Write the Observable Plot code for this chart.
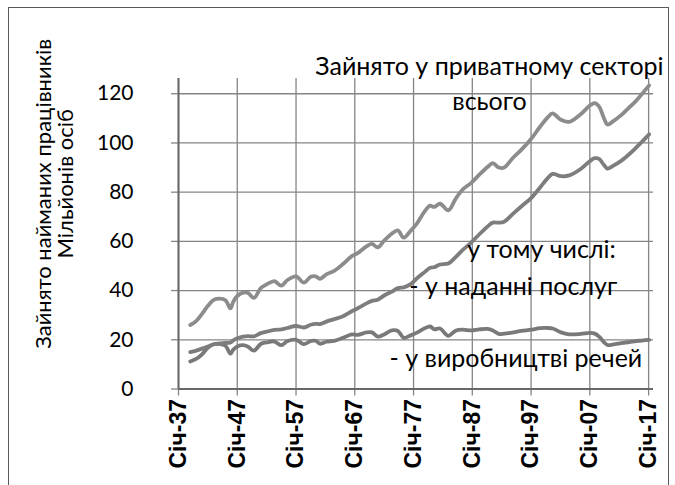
<!DOCTYPE html>
<html><head><meta charset="utf-8">
<script src="https://cdn.jsdelivr.net/npm/d3@7"></script>
<script src="https://cdn.jsdelivr.net/npm/@observablehq/plot@0.6"></script>
<style>
html,body{margin:0;padding:0;background:#fff;width:675px;height:485px;overflow:hidden;}
#chart{position:absolute;left:0;top:0;}
#border{position:absolute;left:8px;top:7px;width:661px;height:520px;border:1px solid #5a5a5a;box-sizing:border-box;z-index:2;pointer-events:none;}
</style></head><body>
<div id="chart"></div>
<div id="border"></div>
<script>
// time points (decimal years)
const years = [1939.0,1940.0,1941.0,1942.0,1943.0,1944.0,1945.0,1945.8,1946.3,1947.0,1948.0,1948.8,1949.8,1951.0,1952.0,1953.3,1954.5,1955.5,1957.0,1958.3,1959.5,1960.3,1961.1,1962.2,1963.5,1965.0,1966.5,1967.5,1969.0,1969.9,1970.9,1972.0,1973.3,1974.3,1975.3,1976.5,1977.5,1978.8,1979.8,1980.5,1981.5,1982.9,1984.2,1985.3,1986.8,1988.2,1989.6,1990.5,1991.5,1992.4,1994.0,1995.3,1997.0,1998.5,1999.8,2000.7,2002.1,2003.5,2005.5,2007.0,2007.8,2008.6,2009.4,2010.0,2011.0,2012.3,2013.5,2014.6,2015.8,2017.1];
// private sector total, millions
const totalPrivate = [26.0,27.6,30.5,33.8,36.2,36.7,36.1,32.8,35.5,37.8,39.2,39.0,37.0,41.0,42.5,43.8,42.0,44.2,45.8,43.2,45.6,45.8,44.8,46.6,48.0,50.8,54.0,55.2,58.0,59.0,57.6,60.3,63.2,64.5,61.5,64.3,67.0,72.0,74.5,74.0,75.3,72.6,77.3,81.0,83.8,87.0,90.2,91.8,90.0,90.0,94.2,97.2,101.6,106.5,110.4,112.0,109.4,108.6,111.8,115.2,116.2,114.8,110.0,107.5,108.9,111.3,114.0,116.4,119.8,123.4];
// of which: service-providing
const servicesJobs = [15.0,15.6,16.4,17.3,18.2,18.5,18.7,18.9,19.8,20.6,21.3,21.5,21.4,22.7,23.3,24.0,24.2,24.8,25.6,25.0,26.1,26.5,26.4,27.4,28.4,29.6,31.6,32.8,34.8,35.8,36.3,38.0,39.6,41.0,41.3,42.6,44.8,47.4,49.3,49.5,50.6,51.0,53.6,56.4,59.6,62.8,66.0,67.6,67.6,68.0,71.4,74.2,77.6,81.8,85.7,87.4,86.5,86.8,89.5,92.6,93.8,93.5,91.0,89.6,90.8,92.7,95.0,97.4,100.4,103.5];
// of which: goods-producing
const goodsJobs = [11.2,12.2,14.1,16.8,18.2,18.3,17.6,14.3,16.0,17.3,17.8,17.2,15.6,18.3,18.9,19.3,17.8,19.4,20.0,18.2,19.5,19.6,18.4,19.2,19.6,20.8,22.2,22.0,23.0,23.0,21.3,22.2,23.8,23.6,20.8,21.8,22.8,24.6,25.4,24.3,24.6,21.6,23.7,24.1,23.8,24.2,24.4,23.8,22.4,22.5,23.0,23.6,24.1,24.7,24.8,24.6,23.0,22.2,22.4,22.8,22.5,21.3,19.0,17.9,18.1,18.6,19.0,19.4,19.7,20.0];

const tickYears = [1937,1947,1957,1967,1977,1987,1997,2007,2017];
const tickLabels = ["Січ-37","Січ-47","Січ-57","Січ-67","Січ-77","Січ-87","Січ-97","Січ-07","Січ-17"];
const yTicks = [0,20,40,60,80,100,120];

const yTitle1 = "Зайнято найманих працівників";
const yTitle2 = "Мільйонів осіб";
const labelTotal1 = "Зайнято у приватному секторі";
const labelTotal2 = "всього";
const labelOf = "у тому числі:";
const labelServices = "- у наданні послуг";
const labelGoods = "- у виробництві речей";

function toDate(y) {
  const yr = Math.floor(y);
  return new Date(Date.UTC(yr, Math.round((y - yr) * 12), 1));
}

const data = years.map((y, i) => ({date: toDate(y), total: totalPrivate[i], services: servicesJobs[i], goods: goodsJobs[i]}));
const tickDates = tickYears.map(y => toDate(y));

const gridColor = "#858585";
const axisColor = "#686868";
const annFont = {fontFamily: "Lato", fontSize: 25, fill: "#000"};

const chart = Plot.plot({
  width: 675,
  height: 485,
  marginLeft: 178,
  marginRight: 22,
  marginTop: 78,
  marginBottom: 96.5,
  style: {fontFamily: "Lato", background: "transparent", color: "#000"},
  x: {type: "utc", domain: [toDate(1937), toDate(2017.85)]},
  y: {domain: [0, 126.2]},
  marks: [
    Plot.gridX(tickDates, {stroke: gridColor, strokeOpacity: 1, strokeWidth: 1.3}),
    Plot.gridY(yTicks.filter(v => v > 0), {stroke: gridColor, strokeOpacity: 1, strokeWidth: 1.3}),
    Plot.axisY(yTicks, {tickSize: 7, tickPadding: 38, fontSize: 21, fontFamily: "Lato", stroke: gridColor, strokeWidth: 1.3, label: null, fill: "#000"}),
    Plot.axisX(tickDates, {
      tickSize: 7, tickPadding: 3, tickRotate: -90, fontSize: 23, fontWeight: "bold",
      fontFamily: "Liberation Sans", stroke: gridColor, strokeWidth: 1.3, label: null, fill: "#000",
      tickFormat: d => tickLabels[tickYears.indexOf(d.getUTCFullYear())]
    }),
    Plot.ruleY([0], {stroke: axisColor, strokeWidth: 2}),
    Plot.ruleX([toDate(1937)], {stroke: axisColor, strokeWidth: 2}),
    Plot.lineY(data, {x: "date", y: "goods", stroke: "#797979", strokeWidth: 3.8, curve: "catmull-rom"}),
    Plot.lineY(data, {x: "date", y: "services", stroke: "#7d7d7d", strokeWidth: 3.8, curve: "catmull-rom"}),
    Plot.lineY(data, {x: "date", y: "total", stroke: "#8c8c8c", strokeWidth: 3.8, curve: "catmull-rom"}),
    Plot.text([labelTotal1], {x: toDate(1989.9), y: 130.7, text: d => d, ...annFont}),
    Plot.text([labelTotal2], {x: toDate(1989.9), y: 116.5, text: d => d, ...annFont}),
    Plot.text([labelOf], {x: toDate(2011.4), y: 56.3, text: d => d, textAnchor: "end", ...annFont}),
    Plot.text([labelServices], {x: toDate(2011.7), y: 41.3, text: d => d, textAnchor: "end", ...annFont}),
    Plot.text([labelGoods], {x: toDate(1994.4), y: 12.0, text: d => d, ...annFont}),
    Plot.text([yTitle1], {frameAnchor: "left", textAnchor: "middle", lineAnchor: "middle", rotate: -90, dx: -135, dy: -40, text: d => d, fontFamily: "Lato", fontSize: 22, fill: "#000"}),
    Plot.text([yTitle2], {frameAnchor: "left", textAnchor: "middle", lineAnchor: "middle", rotate: -90, dx: -113, dy: -50, text: d => d, fontFamily: "Lato", fontSize: 22, fill: "#000"})
  ]
});
document.getElementById("chart").appendChild(chart);
</script>
</body></html>
